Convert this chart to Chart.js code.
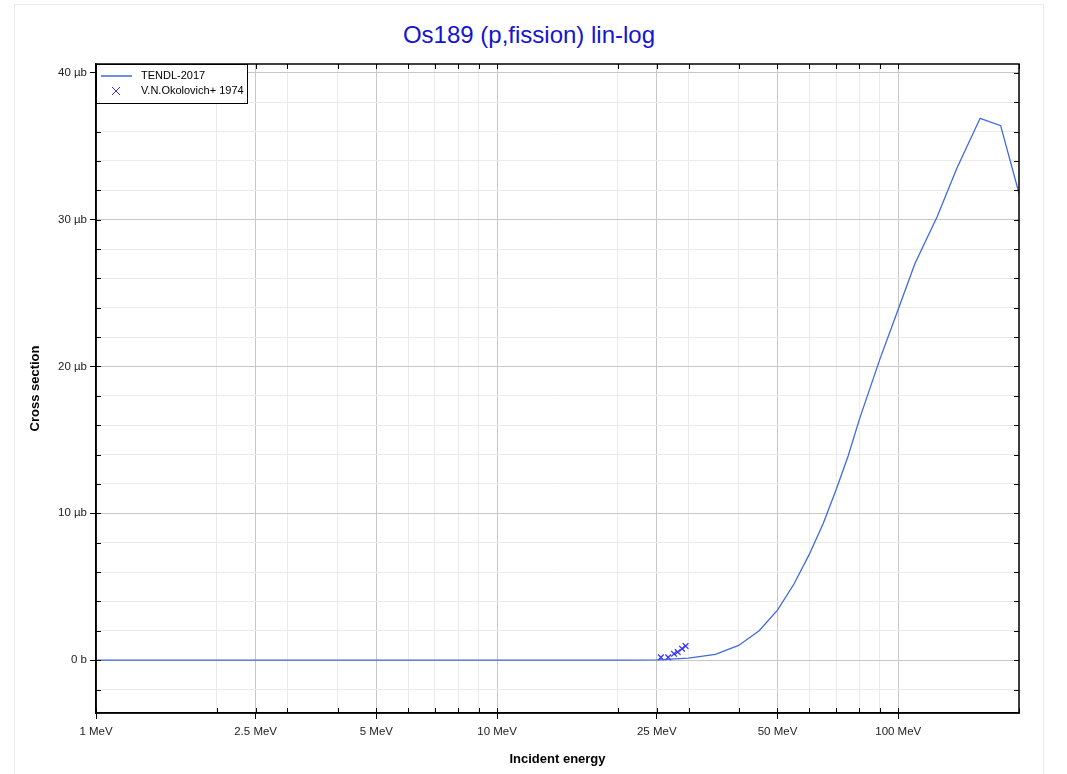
<!DOCTYPE html>
<html>
<head>
<meta charset="utf-8">
<script src="https://cdn.jsdelivr.net/npm/chart.js@4.4.1/dist/chart.umd.min.js"></script>
<style>
body { margin: 0; background: #fff; }
#moldura { position: absolute; left: 14px; top: 4px; width: 1028px; height: 800px; border: 1px solid #ececec; }
#titulo { position: absolute; left: 14px; top: 21px; width: 1030px; text-align: center; font: 24px "Liberation Sans", Arial, sans-serif; line-height: 28px; color: #1414d2; }
#caixa { position: absolute; left: 0; top: 0; width: 1067px; height: 774px; }
</style>
</head>
<body>
<div id="moldura"></div>
<div id="titulo">Os189 (p,fission) lin-log</div>
<div id="caixa"><canvas id="grafico" width="1067" height="774"></canvas></div>
<script>
// TENDL-2017 curve (energy in MeV, cross section in µb)
const tendlEnergia = [1, 2, 5, 10, 15, 20, 25, 30, 35, 40, 45, 50, 55, 60, 65, 70, 75, 80, 90, 100, 110, 125, 140, 160, 180, 200];
const tendlSecao = [0, 0, 0, 0, 0, 0, 0.02, 0.14, 0.39, 1.0, 2.0, 3.4, 5.2, 7.2, 9.3, 11.6, 13.9, 16.4, 20.5, 23.9, 27.0, 30.2, 33.5, 36.9, 36.4, 31.8];

// V.N.Okolovich+ 1974
const expEnergia = [25.6, 26.7, 27.6, 28.2, 28.9, 29.5];
const expSecao = [0.19, 0.19, 0.43, 0.55, 0.78, 0.96];

const xTicks = [1, 2, 2.5, 3, 4, 5, 6, 7, 8, 9, 10, 20, 25, 30, 40, 50, 60, 70, 80, 90, 100, 200];
const xMaiores = [1, 2.5, 5, 10, 25, 50, 100];
const yTicks = [-2, 0, 2, 4, 6, 8, 10, 12, 14, 16, 18, 20, 22, 24, 26, 28, 30, 32, 34, 36, 38, 40];
const yMin = -3.6;
const yMax = 40.6;

const fonte = '"Liberation Sans", Arial, sans-serif';

const ehMaiorX = v => xMaiores.includes(v);
const ehMaiorY = v => v % 10 === 0;

const extras = {
    id: 'extras',
    afterDraw(chart) {
        const ctx = chart.ctx;
        const a = chart.chartArea;
        const sx = chart.scales.x;
        const sy = chart.scales.y;
        ctx.save();
        ctx.strokeStyle = '#000';
        ctx.lineWidth = 1;
        // ticks internos
        ctx.beginPath();
        xTicks.forEach(v => {
            const px = Math.round(sx.getPixelForValue(v)) + 0.5;
            ctx.moveTo(px, a.bottom); ctx.lineTo(px, a.bottom - 5);
            ctx.moveTo(px, a.top); ctx.lineTo(px, a.top + 5);
        });
        yTicks.forEach(v => {
            const py = Math.round(sy.getPixelForValue(v)) + 0.5;
            ctx.moveTo(a.left, py); ctx.lineTo(a.left + 5, py);
            ctx.moveTo(a.right, py); ctx.lineTo(a.right - 5, py);
        });
        ctx.stroke();
        // moldura
        ctx.lineWidth = 1.5;
        ctx.strokeRect(a.left, a.top, a.right - a.left, a.bottom - a.top);

        // legenda
        const lx = a.left, ly = a.top;
        ctx.fillStyle = '#fff';
        ctx.fillRect(lx, ly, 151, 39);
        ctx.lineWidth = 1;
        ctx.strokeStyle = '#000';
        ctx.strokeRect(lx + 0.5, ly + 0.5, 151, 39);
        ctx.strokeStyle = '#4169e1';
        ctx.lineWidth = 1.5;
        ctx.beginPath();
        ctx.moveTo(lx + 5, ly + 12); ctx.lineTo(lx + 36, ly + 12);
        ctx.stroke();
        ctx.strokeStyle = '#3333ff';
        ctx.lineWidth = 1;
        ctx.beginPath();
        ctx.moveTo(lx + 16, ly + 23); ctx.lineTo(lx + 24, ly + 31);
        ctx.moveTo(lx + 24, ly + 23); ctx.lineTo(lx + 16, ly + 31);
        ctx.stroke();
        ctx.fillStyle = '#000';
        ctx.font = '11px ' + fonte;
        ctx.textBaseline = 'middle';
        ctx.fillText('TENDL-2017', lx + 45, ly + 12);
        ctx.fillText('V.N.Okolovich+ 1974', lx + 45, ly + 27);
        ctx.restore();
    }
};

const grafico = document.getElementById('grafico').getContext('2d');

const myChart = new Chart(grafico, {
    type: 'scatter',
    data: {
        datasets: [{
            label: 'TENDL-2017',
            data: tendlEnergia.map((e, i) => ({ x: e, y: tendlSecao[i] })),
            showLine: true,
            borderColor: '#4169e1',
            borderWidth: 1.3,
            pointRadius: 0,
            tension: 0
        }, {
            label: 'V.N.Okolovich+ 1974',
            data: expEnergia.map((e, i) => ({ x: e, y: expSecao[i] })),
            showLine: false,
            pointStyle: 'crossRot',
            pointRadius: 4,
            borderColor: '#3333ff',
            borderWidth: 1.3
        }]
    },
    options: {
        responsive: false,
        animation: false,
        devicePixelRatio: 1,
        layout: { padding: { left: 0, right: 48, top: 64, bottom: 0 } },
        plugins: {
            legend: { display: false },
            tooltip: { enabled: false },
            title: { display: false }
        },
        scales: {
            x: {
                type: 'logarithmic',
                min: 1,
                max: 200,
                afterBuildTicks: s => { s.ticks = xTicks.map(v => ({ value: v, major: ehMaiorX(v) })); },
                afterFit: s => { s.height = 61; },
                ticks: {
                    autoSkip: false,
                    maxRotation: 0,
                    padding: 6,
                    color: '#222',
                    font: { family: fonte, size: 11.5 },
                    callback: v => ehMaiorX(v) ? v + ' MeV' : ''
                },
                grid: {
                    color: c => ehMaiorX(c.tick.value) ? '#c8c8c8' : '#ebebeb',
                    tickColor: c => ehMaiorX(c.tick.value) ? '#000' : 'rgba(0,0,0,0)',
                    tickLength: 6
                },
                border: { display: true, color: '#000', width: 1.5 },
                title: {
                    display: true,
                    text: 'Incident energy',
                    color: '#000',
                    font: { family: fonte, size: 13, weight: 'bold' },
                    padding: { top: 0, bottom: 7 }
                }
            },
            y: {
                min: yMin,
                max: yMax,
                afterBuildTicks: s => { s.ticks = yTicks.map(v => ({ value: v, major: ehMaiorY(v) })); },
                afterFit: s => { s.width = 96; },
                ticks: {
                    autoSkip: false,
                    padding: 3,
                    color: '#222',
                    font: { family: fonte, size: 11.5 },
                    callback: v => v === 0 ? '0 b' : (ehMaiorY(v) ? v + ' µb' : '')
                },
                grid: {
                    color: c => ehMaiorY(c.tick.value) ? '#c8c8c8' : '#ebebeb',
                    tickColor: c => ehMaiorY(c.tick.value) ? '#000' : 'rgba(0,0,0,0)',
                    tickLength: 6
                },
                border: { display: true, color: '#000', width: 1.5 },
                title: {
                    display: true,
                    text: 'Cross section',
                    color: '#000',
                    font: { family: fonte, size: 13, weight: 'bold' },
                    padding: { top: 28, bottom: 0 }
                }
            }
        }
    },
    plugins: [extras]
});
</script>
</body>
</html>
